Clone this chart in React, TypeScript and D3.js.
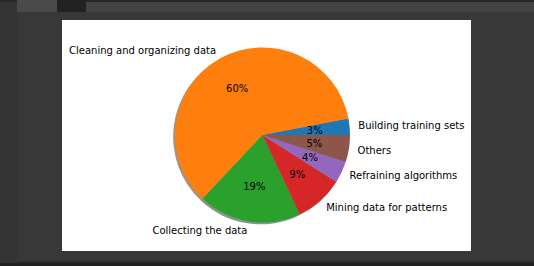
import React from "react";
import * as d3 from "d3";

const categories = [
  "Building training sets",
  "Cleaning and organizing data",
  "Collecting the data",
  "Mining data for patterns",
  "Refraining algorithms",
  "Others",
];
const values = [3, 60, 19, 9, 4, 5];
const colors = ["#1f77b4", "#ff7f0e", "#2ca02c", "#d62728", "#9467bd", "#8c564b"];

const W = 534;
const H = 266;
const cx = 262.5;
const cy = 135;
const R = 87.5;

export default function App() {
  const total = d3.sum(values);
  // matplotlib: start at 0deg (east), counter-clockwise
  const angScale = d3.scaleLinear().domain([0, total]).range([0, 360]);
  const cum = d3.cumsum(values);
  const slices = values.map((v, i) => {
    const a0 = angScale(cum[i] - v);
    const a1 = angScale(cum[i]);
    return { v, i, a0, a1, mid: (a0 + a1) / 2 };
  });
  // convert math angle (deg, ccw from east) to d3 arc angle (rad, cw from north)
  const toD3 = (deg: number) => Math.PI / 2 - (deg * Math.PI) / 180;
  const arc = d3.arc<any>().innerRadius(0).outerRadius(R);
  const pt = (deg: number, r: number) => {
    const t = (deg * Math.PI) / 180;
    return [cx + r * Math.cos(t), cy - r * Math.sin(t)];
  };
  const shade = (c: string) => {
    const col = d3.rgb(c);
    return d3.rgb(col.r * 0.3, col.g * 0.3, col.b * 0.3).toString();
  };
  const font = "'DejaVu Sans', sans-serif";
  return (
    <div style={{ position: "fixed", left: 0, top: 0 }}>
      <svg width={W} height={H} style={{ display: "block" }}>
        <rect x={0} y={0} width={W} height={H} fill="#333333" />
        <rect x={0} y={263} width={W} height={3} fill="#202020" />
        <rect x={17} y={0} width={W - 17} height={261} fill="#383838" />
        <rect x={17} y={261} width={W - 17} height={2} fill="#2b2b2b" />
        <rect x={0} y={0} width={W} height={2} fill="#262626" />
        <rect x={86} y={2} width={W - 86} height={10} fill="#424242" />
        <rect x={17} y={0} width={40} height={12} fill="#4a4a4a" />
        <rect x={57} y={0} width={29} height={12} fill="#222222" />
        <rect x={62} y={20} width={409} height={231} fill="#ffffff" />
        <g transform={`translate(${cx - 1.8},${cy + 1.8})`}>
          {slices.map((s) => (
            <path
              key={"sh" + s.i}
              d={arc({ startAngle: toD3(s.a1), endAngle: toD3(s.a0) }) || ""}
              fill={shade(colors[s.i])}
              fillOpacity={0.5}
            />
          ))}
        </g>
        <g transform={`translate(${cx},${cy})`}>
          {slices.map((s) => (
            <path
              key={"w" + s.i}
              d={arc({ startAngle: toD3(s.a1), endAngle: toD3(s.a0) }) || ""}
              fill={colors[s.i]}
            />
          ))}
        </g>
        {slices.map((s) => {
          const [lx, ly] = pt(s.mid, R * 1.1);
          const [px, py] = pt(s.mid, R * 0.6);
          const right = Math.cos((s.mid * Math.PI) / 180) > 0;
          return (
            <g key={"t" + s.i} fontFamily={font} fontSize={10} fill="#000">
              <text x={lx} y={ly} dy="0.35em" textAnchor={right ? "start" : "end"}>
                {categories[s.i]}
              </text>
              <text x={px} y={py} dy="0.35em" textAnchor="middle">
                {`${d3.format(".0f")((s.v / total) * 100)}%`}
              </text>
            </g>
          );
        })}
      </svg>
    </div>
  );
}
